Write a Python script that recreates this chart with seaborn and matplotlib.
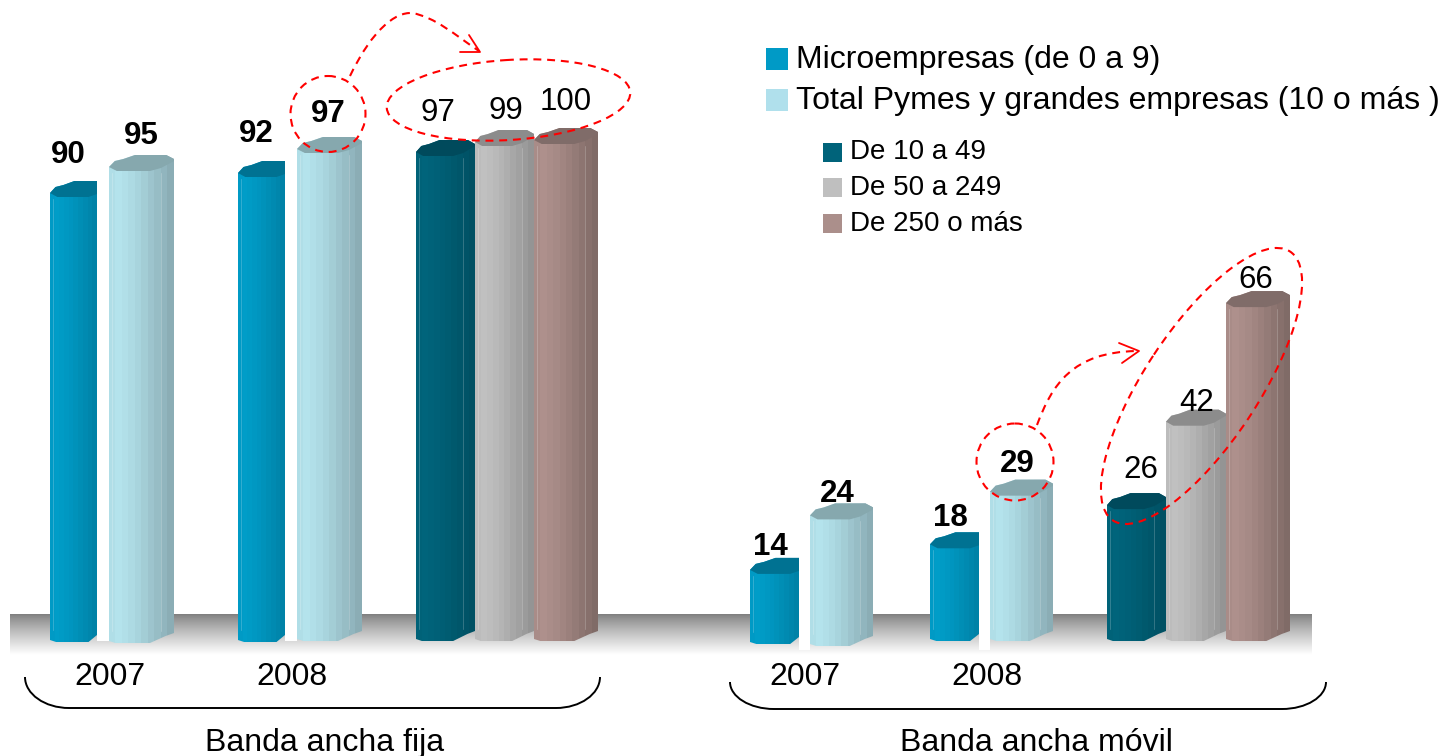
import numpy as np
import pandas as pd
import seaborn as sns
import matplotlib
matplotlib.use('Agg')
import matplotlib.pyplot as plt
from matplotlib.colors import to_rgb
from matplotlib.patches import Ellipse, PathPatch, Polygon, Rectangle
from matplotlib.path import Path

# data
categories = ['Micro 2007', 'Total 2007', 'Micro 2008', 'Total 2008',
              'De 10 a 49', 'De 50 a 249', 'De 250 o más']
fija_values = [90, 95, 92, 97, 97, 99, 100]
movil_values = [14, 24, 18, 29, 26, 42, 66]
years = ['2007', '2008']
legend_main = ['Microempresas (de 0 a 9)', 'Total Pymes y grandes empresas (10 o más )']
legend_sizes = ['De 10 a 49', 'De 50 a 249', 'De 250 o más']
group_names = ['Banda ancha fija', 'Banda ancha móvil']

# layout, in picture pixels
fija_left = [50, 109, 238, 297, 416, 475, 534]
fija_width = [47, 65, 47, 65, 59, 59, 64]
fija_bottom = [642, 643, 642, 641, 641, 641, 641]
fija_nudge = [3, 2, -7, -6, -3, -3, 0]
movil_left = [750, 810, 930, 990, 1107, 1166, 1226]
movil_width = [49, 63, 49, 63, 59, 60, 64]
movil_bottom = [644, 646, 641, 641, 641, 641, 641]
movil_nudge = [2, -1, -3, 1, -1, -2, 3]
fija_label_xy = [(68, 153), (141, 134), (256, 132), (328, 112), (438, 111), (506, 109), (566, 100)]
movil_label_xy = [(770, 545), (837, 492), (950, 516), (1017, 462), (1141, 468), (1197, 401), (1256, 278)]
baseline_px = 640
fija_scale = 5.0
movil_scale = 5.15
W, H = 1445, 756

# light side, dark side, cap
styles = {
    'micro': ('#009DC8', '#007FA3', '#007292'),
    'total': ('#B4E3EC', '#86A6AE', '#86A8AE'),
    'dark': ('#00647B', '#004E60', '#004A5C'),
    'gray': ('#C0C0C0', '#8F8F8F', '#8C8C8C'),
    'mauve': ('#AE908C', '#7A6662', '#806C69'),
}
bar_styles = ['micro', 'total', 'micro', 'total', 'dark', 'gray', 'mauve']
bands = [0.08, 0.0, 0.06, 0.14, 0.24, 0.36, 0.5, 0.62, 0.74, 0.88]

sns.set_theme(style='white')
plt.rcParams['font.family'] = ['Liberation Sans', 'DejaVu Sans']

fig = plt.figure(figsize=(W / 100, H / 100), dpi=100)


def full_axes(zorder):
    ax = fig.add_axes([0, 0, 1, 1], zorder=zorder)
    ax.patch.set_alpha(0)
    return ax


bg = full_axes(0)
ax_fija = full_axes(1)
ax_movil = full_axes(2)
fg = full_axes(3)
for a in (bg, fg):
    a.set_xlim(0, W)
    a.set_ylim(H, 0)
    a.axis('off')

# floor band
floor = np.linspace(0, 1, 60) ** 0.85
floor = (0.5 + 0.5 * floor).reshape(-1, 1)
bg.imshow(floor, extent=(10, 1312, 655, 614), cmap='gray', vmin=0, vmax=1, aspect='auto')
bg.set_xlim(0, W)
bg.set_ylim(H, 0)
for x0, x1, y1 in [(97, 109, 641), (285, 297, 641), (799, 810, 650), (979, 990, 650)]:
    bg.add_patch(Rectangle((x0, 610), x1 - x0, y1 - 610, color='white', lw=0))


def draw_bars(ax, names, values, lefts, widths, bottoms, nudges, scale):
    df = pd.DataFrame({'pos': [l + w / 2 for l, w in zip(lefts, widths)], 'value': values, 'name': names})
    sns.barplot(data=df, x='pos', y='value', native_scale=True, color='white', ax=ax)
    ax.set_xlim(0, W)
    ax.set_ylim(-(H - baseline_px) / scale, baseline_px / scale)
    ax.axis('off')

    def to_val(py):
        return (baseline_px - np.asarray(py, dtype=float)) / scale

    for i, patch in enumerate(ax.patches[:len(values)]):
        x0, w, v = lefts[i], widths[i], patch.get_height()
        patch.set_x(x0)
        patch.set_width(w)
        patch.set_visible(False)
        x1 = x0 + w
        style = bar_styles[i]
        full = w * 1.3 if style == 'micro' else w
        shoulder = baseline_px - v * scale + nudges[i]
        bottom = bottoms[i]

        def px(u):
            return np.minimum(x0 + np.asarray(u) * full, x1)

        top_u = [0, 0.03, 0.09, 0.22, 0.40, 0.88, 1.0]
        top_up = [0, 2, 6, 8, 12, 12, 8]
        under_u = [1.0, 0.8, 0.63, 0.12, 0.03, 0]
        under_up = [6, -1, -4, -4, -1, 0]
        bot_u = [1.0, 0.87, 0.63, 0.1, 0]
        bot_up = [10, 7, 0, 0, 2]

        outline = list(zip(px(top_u), to_val(shoulder - np.array(top_up))))
        outline += list(zip(px(bot_u), to_val(bottom - np.array(bot_up))))
        clip = Polygon(outline, closed=True, transform=ax.transData)

        light, dark, cap = styles[style]
        rgb = np.array([[np.array(to_rgb(light)) * (1 - t) + np.array(to_rgb(dark)) * t for t in bands]])
        im = ax.imshow(rgb, extent=(x0, x1, to_val(bottom), to_val(shoulder - 13)), aspect='auto',
                       interpolation='nearest', zorder=3 + i)
        im.set_clip_path(clip)

        cap_pts = list(zip(px(top_u), to_val(shoulder - np.array(top_up))))
        cap_pts += list(zip(px(under_u), to_val(shoulder - np.array(under_up))))
        ax.add_patch(Polygon(cap_pts, closed=True, facecolor=cap, edgecolor='none', zorder=3.5 + i))

        # thin facet highlights
        for u in (0.05, 0.8):
            if u * full < w:
                ax.plot([px(u), px(u)], [to_val(shoulder + 6), to_val(bottom - 12)], color='white',
                        alpha=0.2, lw=0.7, zorder=3.6 + i)
    ax.set_xlim(0, W)
    ax.set_ylim(-(H - baseline_px) / scale, baseline_px / scale)


draw_bars(ax_fija, categories, fija_values, fija_left, fija_width, fija_bottom, fija_nudge, fija_scale)
draw_bars(ax_movil, categories, movil_values, movil_left, movil_width, movil_bottom, movil_nudge, movil_scale)

# value labels, the first four of each group in bold
for values, label_xy in [(fija_values, fija_label_xy), (movil_values, movil_label_xy)]:
    for i, (v, (x, y)) in enumerate(zip(values, label_xy)):
        fg.text(x, y + 2, str(v), ha='center', va='center', fontsize=22.5, color='black',
                fontweight='bold' if i < 4 else 'normal')

for x, label in zip([110, 292, 805, 987], years * 2):
    fg.text(x, 685, label, ha='center', va='baseline', fontsize=23, color='black')
fg.text(325, 751, group_names[0], ha='center', va='baseline', fontsize=23, color='black')
fg.text(1036, 751, group_names[1], ha='center', va='baseline', fontsize=23, color='black')


def brace(x0, x1, y0, y1, r):
    drop = 0.55 * (y1 - y0)
    verts = [(x0, y0), (x0, y0 + drop), (x0 + 0.45 * r, y1), (x0 + r, y1), (x1 - r, y1),
             (x1 - 0.45 * r, y1), (x1, y0 + drop), (x1, y0)]
    codes = [Path.MOVETO, Path.CURVE4, Path.CURVE4, Path.CURVE4, Path.LINETO,
             Path.CURVE4, Path.CURVE4, Path.CURVE4]
    fg.add_patch(PathPatch(Path(verts, codes), fill=False, edgecolor='black', lw=1.4))


brace(25, 600, 677, 708, 44)
brace(730, 1326, 682, 709, 44)

# legend
for y, c in zip([48, 89], ['#009AC6', '#B0E0EC']):
    fg.add_patch(Rectangle((766, y), 22, 22, color=c, lw=0))
for y, t in zip([68, 109], legend_main):
    fg.text(796, y, t, va='baseline', fontsize=23, color='black')
for y, c in zip([143, 178, 214], ['#00637A', '#BFBFBF', '#AB8F8B']):
    fg.add_patch(Rectangle((823, y), 19, 19, color=c, lw=0))
for y, t in zip([159, 195, 231], legend_sizes):
    fg.text(850, y, t, va='baseline', fontsize=20, color='black')

# red dashed callouts
dash = dict(fill=False, edgecolor='#FF0000', lw=1.5, linestyle=(0, (3.8, 2.8)), zorder=10)
fg.add_patch(Ellipse((328, 114), 75, 76, **dash))
fg.add_patch(Ellipse((508.5, 100), 244, 80, angle=-3.7, **dash))
fg.add_patch(Ellipse((1015, 462), 77, 77, **dash))
fg.add_patch(Ellipse((1201.5, 386), 322, 114, angle=-56.6, **dash))

fg.add_patch(PathPatch(Path([(350, 76), (372, 30), (395, 12), (412, 13), (435, 17), (455, 35), (479, 51)],
                            [Path.MOVETO] + [Path.CURVE4] * 6), **dash))
fg.add_patch(PathPatch(Path([(1037, 425), (1052, 385), (1072, 352), (1137, 351)],
                            [Path.MOVETO] + [Path.CURVE4] * 3), **dash))
for pts in ([(469, 35), (480, 52), (460, 52)], [(1119, 343), (1139, 351), (1122, 363)]):
    fg.plot(*zip(*pts), color='#FF0000', lw=1.3, zorder=10)
fg.set_xlim(0, W)
fg.set_ylim(H, 0)

fig.savefig('out.png', dpi=100)
